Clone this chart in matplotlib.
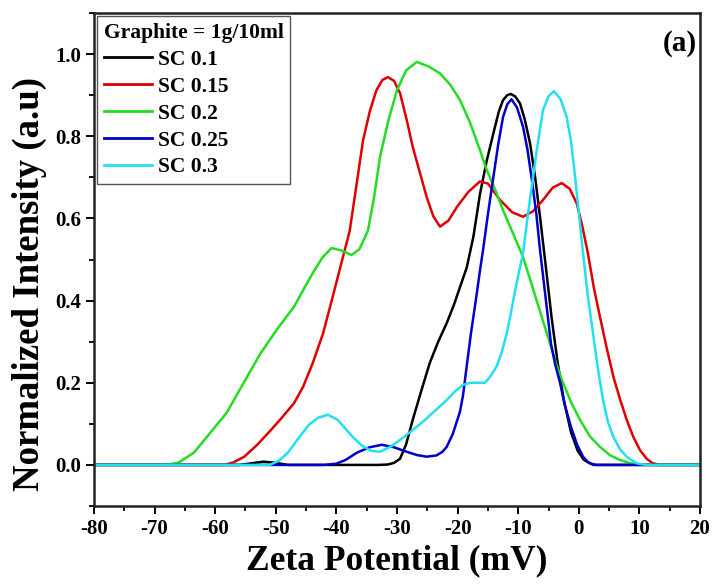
import matplotlib
matplotlib.use("Agg")
import matplotlib.pyplot as plt
from matplotlib.ticker import MultipleLocator

plt.rcParams['font.family'] = ['Liberation Serif', 'DejaVu Serif']
plt.rcParams['font.weight'] = 'bold'
plt.rcParams['axes.unicode_minus'] = False

# ---- data ----
labels = ["SC 0.1", "SC 0.15", "SC 0.2", "SC 0.25", "SC 0.3"]
colors = ["#000000", "#e00000", "#22dd22", "#0000cc", "#22e0f0"]

x_sc01 = [-80, -56, -54, -52, -50, -48, -33, -31.5, -30.5, -29.5, -28.5, -27.4, -26, -24.6, -23.2,
          -21.8, -20.6, -19.6, -18.5, -17.4, -16.3, -15.2, -14.1, -13.2, -12.5, -11.8, -11.25, -10.5,
          -9.7, -8.9, -8.05, -7.2, -6.4, -5.5, -4.5, -3.5, -2.5, -1.3, -0.2, 0.8, 1.8, 2.8, 20]
y_sc01 = [0, 0, 0.004, 0.008, 0.005, 0, 0, 0.001, 0.005, 0.015, 0.05, 0.11, 0.18, 0.248, 0.30,
          0.345, 0.39, 0.433, 0.48, 0.555, 0.66, 0.74, 0.807, 0.86, 0.888, 0.900, 0.903, 0.897,
          0.88, 0.84, 0.783, 0.70, 0.604, 0.49, 0.36, 0.25, 0.16, 0.08, 0.035, 0.013, 0.004, 0, 0]

x_sc015 = [-80, -58.5, -57, -55.2, -53, -50.8, -49.3, -47, -45.5, -43.9, -42.2, -40.6, -38.9, -37.8,
           -36.7, -35.6, -34.5, -33.4, -32.4, -31.5, -30.5, -29.5, -28.4, -27.4, -26.2, -25.1, -24,
           -22.9, -21.5, -20.1, -18.2, -16.3, -15, -13, -11, -9.2, -7.5, -5.9, -4.3, -2.8, -1.5,
           -0.35, 0.6, 1.5, 2.5, 3.5, 4.6, 5.7, 6.8, 7.9, 9, 10.1, 11.2, 12.2, 13.5, 20]
y_sc015 = [0, 0, 0.006, 0.02, 0.05, 0.085, 0.11, 0.15, 0.19, 0.248, 0.32, 0.41, 0.507, 0.57,
           0.68, 0.79, 0.86, 0.912, 0.937, 0.944, 0.935, 0.905, 0.84, 0.774, 0.71, 0.652, 0.605,
           0.58, 0.595, 0.628, 0.665, 0.69, 0.685, 0.645, 0.615, 0.604, 0.618, 0.645, 0.675, 0.686,
           0.672, 0.637, 0.58, 0.515, 0.43, 0.36, 0.285, 0.215, 0.16, 0.11, 0.068, 0.036, 0.015,
           0.004, 0, 0]

x_sc02 = [-80, -68, -66, -63.5, -61, -58.1, -55.3, -52.5, -49.8, -47, -45.5, -43.9, -42.3, -40.8,
          -39.2, -37.5, -36.2, -34.8, -33.8, -32.8, -31.4, -30, -28.5, -26.75, -24.8, -22.9, -21.2,
          -19.6, -18, -16.3, -15.2, -13.8, -12.5, -10.9, -9.2, -8, -6.95, -5.8, -4.75, -3.7, -2.6,
          -1.2, 0.2, 1.8, 3.5, 5.1, 6.8, 8.5, 10, 20]
y_sc02 = [0, 0, 0.006, 0.03, 0.075, 0.127, 0.2, 0.272, 0.33, 0.385, 0.425, 0.467, 0.505, 0.528,
          0.522, 0.511, 0.525, 0.57, 0.65, 0.75, 0.84, 0.912, 0.96, 0.981, 0.97, 0.953, 0.925,
          0.888, 0.835, 0.766, 0.718, 0.67, 0.62, 0.565, 0.506, 0.45, 0.40, 0.345, 0.296, 0.245,
          0.2, 0.15, 0.11, 0.07, 0.044, 0.024, 0.012, 0.004, 0, 0]

x_sc025 = [-80, -42, -40, -38.5, -36.6, -34.5, -32.5, -30.5, -28.4, -26.7, -25.1, -23.5, -22.5,
           -21.8, -20.8, -19.6, -19.1, -18.5, -17.8, -17, -16.3, -15.8, -15, -14.1, -13.3, -12.5,
           -11.8, -11.1, -10.2, -9.2, -8.5, -7.8, -7, -6.4, -5.5, -4.6, -3.9, -3.1, -2.3, -1.3,
           -0.3, 0.7, 1.5, 2.4, 20]
y_sc025 = [0, 0, 0.003, 0.012, 0.03, 0.043, 0.049, 0.043, 0.032, 0.024, 0.02, 0.023, 0.032,
           0.044, 0.075, 0.13, 0.17, 0.24, 0.32, 0.40, 0.474, 0.523, 0.61, 0.70, 0.78, 0.847,
           0.878, 0.89, 0.87, 0.823, 0.77, 0.70, 0.61, 0.523, 0.41, 0.296, 0.245, 0.2, 0.145,
           0.093, 0.05, 0.02, 0.007, 0, 0]

x_sc03 = [-80, -51, -49.5, -48, -46, -44.5, -43, -41.4, -39.8, -38.5, -37.3, -35.8, -34.2, -32.8,
          -31, -29.2, -27.4, -25.5, -23.7, -21.8, -20.5, -19.1, -17.8, -16.3, -15.5, -14.6, -13.55,
          -12.7, -11.9, -11.2, -10.5, -9.8, -9.2, -8.4, -7.55, -6.7, -5.9, -5, -4.1, -3, -2, -1.3,
          -0.6, 0.1, 0.7, 1.5, 2.35, 3.2, 4, 4.8, 5.7, 6.8, 7.9, 9.5, 11, 20]
y_sc03 = [0, 0, 0.01, 0.03, 0.07, 0.098, 0.115, 0.122, 0.11, 0.088, 0.068, 0.047, 0.034, 0.032,
          0.045, 0.064, 0.085, 0.108, 0.132, 0.158, 0.178, 0.195, 0.2, 0.2, 0.2, 0.215, 0.24,
          0.275, 0.32, 0.37, 0.425, 0.475, 0.515, 0.61, 0.70, 0.79, 0.864, 0.897, 0.91, 0.89,
          0.847, 0.79, 0.70, 0.6, 0.515, 0.41, 0.32, 0.23, 0.158, 0.105, 0.068, 0.038, 0.02,
          0.004, 0, 0]

xs = [x_sc01, x_sc015, x_sc02, x_sc025, x_sc03]
ys = [y_sc01, y_sc015, y_sc02, y_sc025, y_sc03]

x_ticks = [-80, -70, -60, -50, -40, -30, -20, -10, 0, 10, 20]
y_ticks = [0.0, 0.2, 0.4, 0.6, 0.8, 1.0]

# ---- figure ----
fig = plt.figure(figsize=(7.12, 5.88), dpi=100)
ax = fig.add_axes([94/712, 1-506/588, (700-94)/712, (506-13)/588])

for x, y, c, lab in zip(xs, ys, colors, labels):
    ax.plot(x, y, color=c, lw=1.8, label=lab)

ax.set_xlim(-80, 20)
ax.set_ylim(-0.1, 1.1)
ax.set_xticks(x_ticks)
ax.set_yticks(y_ticks)
ax.set_yticklabels([f"{v:.1f}" for v in y_ticks])
ax.xaxis.set_minor_locator(MultipleLocator(5))
ax.yaxis.set_minor_locator(MultipleLocator(0.1))
ax.tick_params(which='major', direction='out', length=6, width=1.4, labelsize=15, pad=3)
ax.tick_params(which='minor', direction='out', length=3.5, width=1.3)
for s in ax.spines.values():
    s.set_linewidth(1.8)
    s.set_color('#222222')

ax.set_xlabel("Zeta Potential (mV)", fontsize=25.5, fontweight='bold', labelpad=4)
ax.set_ylabel("Normalized Intensity (a.u)", fontsize=26.5, fontweight='bold')
ax.yaxis.set_label_coords(-0.077, 0.45)

ax.text(0.995, 0.965, "(a)", transform=ax.transAxes, ha='right', va='top',
        fontsize=21, fontweight='bold')

leg = ax.legend(loc='upper left', title="Graphite = 1g/10ml", fontsize=15.5,
                title_fontproperties={'weight': 'bold', 'size': 15.5},
                frameon=True, fancybox=False, edgecolor='#555555', framealpha=1,
                borderaxespad=0.15, handlelength=2.25, handletextpad=0.25,
                labelspacing=0.32, borderpad=0.3, alignment='left')
leg.get_frame().set_linewidth(1.0)
for line in leg.get_lines():
    line.set_linewidth(2.0)

fig.savefig("out.png", dpi=100)
